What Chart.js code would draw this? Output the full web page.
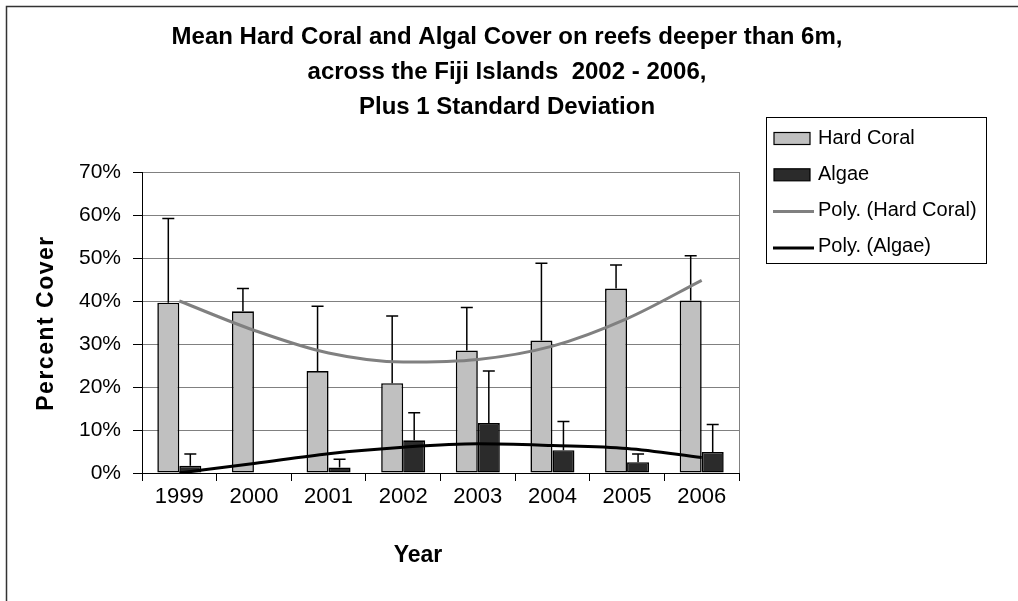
<!DOCTYPE html>
<html>
<head>
<meta charset="utf-8">
<script src="https://cdn.jsdelivr.net/npm/chart.js@4.4.1/dist/chart.umd.min.js"></script>
<style>
  html, body { margin: 0; padding: 0; background: #fff; }
  canvas { display: block; }
</style>
</head>
<body>
<canvas id="c" width="1018" height="601"></canvas>
<script>
// ---- Data ----
const years = ['1999', '2000', '2001', '2002', '2003', '2004', '2005', '2006'];
const hardCoral = [39.6, 37.6, 23.7, 20.9, 28.5, 30.8, 42.9, 40.1];
const hardCoralSD = [19.6, 5.3, 15.1, 15.6, 10.0, 18.0, 5.5, 10.4];
const algae = [1.7, null, 1.3, 7.6, 11.6, 5.3, 2.5, 4.9];
const algaeSD = [2.7, null, 1.9, 6.4, 12.1, 6.7, 1.9, 6.4];
const hardCoralTrend = [40.0, 33.2, 27.9, 25.8, 26.4, 29.5, 35.9, 44.8];
const algaeTrend = [0.0, 2.2, 4.5, 6.0, 6.8, 6.4, 5.7, 3.6];
const yTicks = [0, 10, 20, 30, 40, 50, 60, 70];
const titleLines = [
  'Mean Hard Coral and Algal Cover on reefs deeper than 6m,',
  'across the Fiji Islands  2002 - 2006,',
  'Plus 1 Standard Deviation'
];
const yTitle = 'Percent Cover';
const xTitle = 'Year';

const FONT = '"Liberation Sans", Arial, sans-serif';

const errorBars = {
  id: 'errorBars',
  afterDatasetDraw(chart, args) {
    const ds = chart.data.datasets[args.index];
    if (!ds.errors) return;
    const ctx = chart.ctx;
    const y = chart.scales.y;
    ctx.save();
    ctx.strokeStyle = '#000';
    ctx.lineWidth = 1.5;
    args.meta.data.forEach((bar, i) => {
      const v = ds.data[i], e = ds.errors[i];
      if (v == null || e == null) return;
      const top = y.getPixelForValue(v + e);
      ctx.beginPath();
      ctx.moveTo(bar.x, bar.y);
      ctx.lineTo(bar.x, top);
      ctx.moveTo(bar.x - 6, top);
      ctx.lineTo(bar.x + 6, top);
      ctx.stroke();
    });
    ctx.restore();
  }
};

const decor = {
  id: 'decor',
  beforeDraw(chart) {
    const ctx = chart.ctx;
    ctx.save();
    ctx.fillStyle = '#fff';
    ctx.fillRect(0, 0, chart.width, chart.height);
    ctx.strokeStyle = '#333';
    ctx.lineWidth = 1.5;
    ctx.strokeRect(6.5, 6.5, chart.width + 50, chart.height + 50);
    ctx.restore();
  },
  afterDraw(chart) {
    const ctx = chart.ctx;
    const a = chart.chartArea;
    ctx.save();
    // plot-area right border
    ctx.strokeStyle = '#808080';
    ctx.lineWidth = 1;
    ctx.beginPath();
    ctx.moveTo(Math.round(a.right) + 0.5, a.top);
    ctx.lineTo(Math.round(a.right) + 0.5, a.bottom);
    ctx.stroke();

    // title
    ctx.fillStyle = '#000';
    ctx.textAlign = 'center';
    ctx.textBaseline = 'middle';
    ctx.font = 'bold 24px ' + FONT;
    titleLines.forEach((t, i) => ctx.fillText(t, 507, 37 + i * 35));

    // axis titles
    ctx.font = 'bold 23px ' + FONT;
    ctx.fillText(xTitle, 418, 556);
    ctx.save();
    ctx.translate(47, 323);
    ctx.rotate(-Math.PI / 2);
    ctx.letterSpacing = '1.5px';
    ctx.fillText(yTitle, 0, 0);
    ctx.restore();

    // legend
    const lx = 766, ly = 117, lw = 220, lh = 146;
    ctx.strokeStyle = '#000';
    ctx.lineWidth = 1;
    ctx.strokeRect(lx + 0.5, ly + 0.5, lw, lh);
    ctx.font = '20px ' + FONT;
    ctx.textAlign = 'left';
    [0, 1, 2, 3].forEach((di, k) => {
      const ds = chart.data.datasets[di];
      const cy = 138 + k * 36.3;
      if (ds.type === 'line') {
        ctx.strokeStyle = ds.borderColor;
        ctx.lineWidth = 3;
        ctx.beginPath();
        ctx.moveTo(773, cy + 1);
        ctx.lineTo(814, cy + 1);
        ctx.stroke();
      } else {
        ctx.fillStyle = ds.backgroundColor;
        ctx.fillRect(774, cy - 5.5, 36, 12);
        ctx.strokeStyle = '#000';
        ctx.lineWidth = 1.2;
        ctx.strokeRect(774, cy - 5.5, 36, 12);
      }
      ctx.fillStyle = '#000';
      ctx.fillText(ds.label, 818, cy);
    });
    ctx.restore();
  }
};

new Chart(document.getElementById('c'), {
  data: {
    labels: years,
    datasets: [
      {
        type: 'bar', label: 'Hard Coral', data: hardCoral, errors: hardCoralSD,
        backgroundColor: '#c0c0c0', borderColor: '#000', borderWidth: 1.6,
        borderSkipped: false, categoryPercentage: 0.59, barPercentage: 1.0, order: 2
      },
      {
        type: 'bar', label: 'Algae', data: algae, errors: algaeSD,
        backgroundColor: '#2b2b2b', borderColor: '#000', borderWidth: 1.6,
        borderSkipped: false, categoryPercentage: 0.59, barPercentage: 1.0, order: 2
      },
      {
        type: 'line', label: 'Poly. (Hard Coral)', data: hardCoralTrend,
        borderColor: '#808080', borderWidth: 3, pointRadius: 0,
        cubicInterpolationMode: 'monotone', fill: false, order: 0
      },
      {
        type: 'line', label: 'Poly. (Algae)', data: algaeTrend,
        borderColor: '#000', borderWidth: 3, pointRadius: 0,
        cubicInterpolationMode: 'monotone', fill: false, order: 0
      }
    ]
  },
  options: {
    responsive: false,
    animation: false,
    devicePixelRatio: 1,
    layout: { padding: { top: 172, right: 279, left: 70, bottom: 68 } },
    plugins: {
      legend: { display: false },
      title: { display: false },
      tooltip: { enabled: false }
    },
    scales: {
      x: {
        offset: true,
        afterFit(s) { s.height = 60; },
        grid: { offset: true, drawOnChartArea: false, drawTicks: true, tickLength: 8, tickColor: '#000' },
        border: { color: '#000', width: 1 },
        ticks: { color: '#000', font: { family: FONT, size: 22 }, padding: 3, maxRotation: 0 }
      },
      y: {
        min: 0, max: 70,
        afterFit(s) { s.width = 72; },
        afterBuildTicks(s) { s.ticks = yTicks.map(v => ({ value: v })); },
        grid: { color: '#808080', lineWidth: 1, tickLength: 9, tickColor: '#000' },
        border: { color: '#000', width: 1 },
        ticks: {
          color: '#000', font: { family: FONT, size: 21 }, padding: 12,
          callback: v => v + '%'
        }
      }
    }
  },
  plugins: [errorBars, decor]
});
</script>
</body>
</html>
